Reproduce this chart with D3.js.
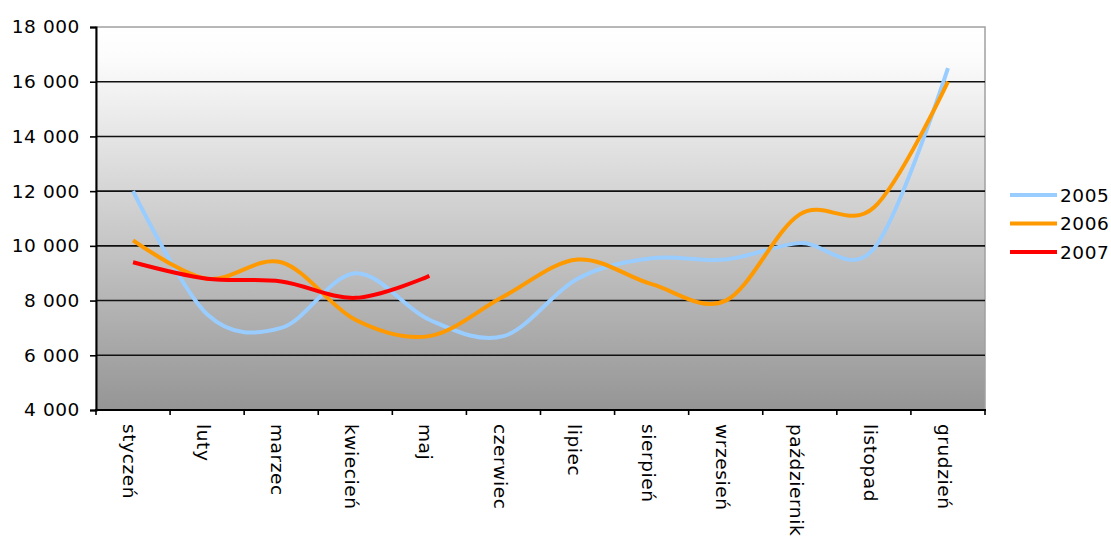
<!DOCTYPE html>
<html>
<head>
<meta charset="utf-8">
<script src="https://cdn.jsdelivr.net/npm/d3@7"></script>
<style>
  html, body { margin: 0; padding: 0; background: #fff; }
  svg { display: block; }
  text { font-family: "DejaVu Sans", Verdana, sans-serif; fill: #000; letter-spacing: 0.6px; }
</style>
</head>
<body>
<svg id="chart" width="1111" height="539"></svg>
<script>
// Monthly values, 2005–2007
const months = ["styczeń", "luty", "marzec", "kwiecień", "maj", "czerwiec",
                "lipiec", "sierpień", "wrzesień", "październik", "listopad", "grudzień"];
const years = ["2005", "2006", "2007"];
const values2005 = [12000, 7500, 7000, 9000, 7300, 6700, 8800, 9550, 9500, 10100, 9900, 16500];
const values2006 = [10200, 8800, 9400, 7300, 6700, 8150, 9500, 8600, 8000, 11150, 11400, 16000];
const values2007 = [9400, 8800, 8700, 8100, 8900];
const yTicks = [4000, 6000, 8000, 10000, 12000, 14000, 16000, 18000];
const colors = ["#99ccff", "#ff9900", "#ff0000"];

const series = [values2005, values2006, values2007];

const svg = d3.select("#chart");
const m = { left: 96, right: 985, top: 27, bottom: 410 };

const x = d3.scaleBand().domain(months).range([m.left, m.right]);
const y = d3.scaleLinear().domain([4000, 18000]).range([m.bottom, m.top]);

// plot-area background gradient
const defs = svg.append("defs");
const grad = defs.append("linearGradient")
  .attr("id", "plotBg").attr("x1", 0).attr("y1", 0).attr("x2", 0).attr("y2", 1);
grad.append("stop").attr("offset", "0%").attr("stop-color", "#ffffff");
grad.append("stop").attr("offset", "8%").attr("stop-color", "#fcfcfc");
grad.append("stop").attr("offset", "100%").attr("stop-color", "#959595");

svg.append("rect")
  .attr("x", m.left).attr("y", m.top)
  .attr("width", m.right - m.left).attr("height", m.bottom - m.top)
  .attr("fill", "url(#plotBg)")
  .attr("stroke", "#a0a0a0").attr("stroke-width", 1.5);

// horizontal gridlines
svg.append("g")
  .selectAll("line")
  .data(yTicks.filter(t => t > 4000 && t < 18000))
  .join("line")
  .attr("x1", m.left).attr("x2", m.right)
  .attr("y1", d => y(d)).attr("y2", d => y(d))
  .attr("stroke", "#111").attr("stroke-width", 1.6);

// y axis
const fmt = d => d3.format(",")(d).replace(/,/g, " ");
const yAxis = svg.append("g")
  .attr("transform", `translate(${m.left},0)`)
  .call(d3.axisLeft(y).tickValues(yTicks).tickFormat(fmt).tickSize(6).tickPadding(10));
yAxis.select(".domain").attr("stroke", "#000").attr("stroke-width", 2);
yAxis.selectAll(".tick line").attr("stroke", "#000").attr("stroke-width", 1.6);
yAxis.selectAll(".tick text")
  .style("font-family", "'DejaVu Sans', Verdana, sans-serif")
  .style("font-size", "18.5px")
  .style("letter-spacing", "0.6px")
  .attr("fill", "#111");

// x axis line and boundary ticks
svg.append("line")
  .attr("x1", m.left - 1).attr("x2", m.right + 1)
  .attr("y1", m.bottom).attr("y2", m.bottom)
  .attr("stroke", "#000").attr("stroke-width", 2);
const bounds = months.map(d => x(d)).concat([m.right]);
svg.append("g")
  .selectAll("line")
  .data(bounds)
  .join("line")
  .attr("x1", d => d).attr("x2", d => d)
  .attr("y1", m.bottom).attr("y2", m.bottom + 5)
  .attr("stroke", "#000").attr("stroke-width", 1.6);

// rotated month labels
svg.append("g")
  .selectAll("text")
  .data(months)
  .join("text")
  .attr("transform", d => `translate(${x(d) + x.bandwidth() / 2 - 4},${m.bottom + 14}) rotate(90)`)
  .attr("dy", "0.32em")
  .attr("text-anchor", "start")
  .style("font-size", "18.5px")
  .attr("fill", "#111")
  .text(d => d);

// smoothed series lines
const line = d3.line()
  .x((d, i) => x(months[i]) + x.bandwidth() / 2)
  .y(d => y(d))
  .curve(d3.curveCardinal.tension(0));

svg.append("g")
  .selectAll("path")
  .data(series)
  .join("path")
  .attr("d", d => line(d))
  .attr("fill", "none")
  .attr("stroke", (d, i) => colors[i])
  .attr("stroke-width", 4)
  .attr("stroke-linejoin", "round");

// legend
const legend = svg.append("g");
const legY = d3.scalePoint().domain(years).range([195, 252]);
legend.selectAll("line")
  .data(years)
  .join("line")
  .attr("x1", 1010).attr("x2", 1057)
  .attr("y1", d => legY(d)).attr("y2", d => legY(d))
  .attr("stroke", (d, i) => colors[i])
  .attr("stroke-width", 4);
legend.selectAll("text")
  .data(years)
  .join("text")
  .attr("x", 1060)
  .attr("y", d => legY(d))
  .attr("dy", "0.36em")
  .style("font-size", "18.5px")
  .attr("fill", "#111")
  .text(d => d);
</script>
</body>
</html>
